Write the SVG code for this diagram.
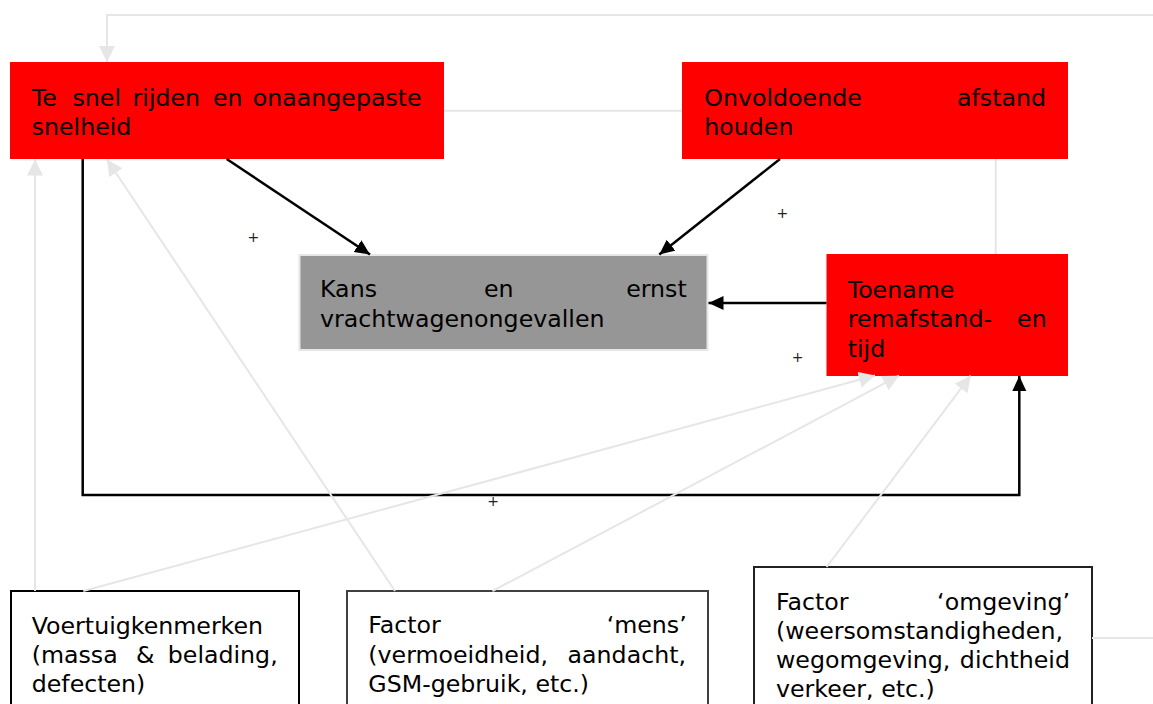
<svg xmlns="http://www.w3.org/2000/svg" width="1153" height="704" viewBox="0 0 1153 704">
<style>
.t{font-family:Verdana,"DejaVu Sans",sans-serif;font-size:23.7px;fill:#000}
.e{text-anchor:end}
.p{font-family:"DejaVu Sans",sans-serif;font-size:14px;fill:#222;text-anchor:middle}
.red{fill:#ff0000}
.blk{fill:none;stroke:#000;stroke-width:2.5}
.gry{fill:none;stroke:#e6e6e6;stroke-width:2}
</style>
<defs>
<marker id="ab" markerUnits="userSpaceOnUse" markerWidth="16" markerHeight="15" refX="15" refY="7" orient="auto"><path d="M0,0 L15,7 L0,14 z" fill="#000"/></marker>
<marker id="ag" markerUnits="userSpaceOnUse" markerWidth="17" markerHeight="17" refX="16" refY="8" orient="auto"><path d="M0,0 L16,8 L0,16 z" fill="#e6e6e6"/></marker>
</defs>
<rect width="1153" height="704" fill="#fff"/>
<g id="node-snelheid">
<rect class="red" x="10" y="62" width="434" height="97"/>
<text class="t" y="106"><tspan x="31.7">Te</tspan><tspan x="72.5">snel</tspan><tspan x="132.6">rijden</tspan><tspan x="213">en</tspan><tspan x="421.7" class="e" text-anchor="end">onaangepaste</tspan></text>
<text class="t" x="31.7" y="135">snelheid</text>
</g>
<g id="node-afstand">
<rect class="red" x="682" y="62" width="386" height="97"/>
<text class="t" x="704.3" y="106">Onvoldoende</text>
<text class="t e" x="1046" y="106">afstand</text>
<text class="t" x="704.3" y="135">houden</text>
</g>
<g id="node-kans">
<rect x="299.5" y="255" width="408" height="95" fill="#969696" stroke="#e6e6e6" stroke-width="2"/>
<text class="t" x="320" y="297.3">Kans</text>
<text class="t" x="484" y="297.3">en</text>
<text class="t e" x="686.7" y="297.3">ernst</text>
<text class="t" x="320" y="326.7">vrachtwagenongevallen</text>
</g>
<g id="node-remafstand">
<rect class="red" x="826.5" y="254" width="241.5" height="122"/>
<text class="t" x="847.7" y="298.3">Toename</text>
<text class="t" x="847.7" y="327.3">remafstand-</text>
<text class="t e" x="1046.7" y="327.3">en</text>
<text class="t" x="847.7" y="356.7">tijd</text>
</g>
<g id="node-voertuig">
<rect x="11" y="591" width="288" height="140" fill="#fff" stroke="#000" stroke-width="2"/>
<text class="t" x="31.7" y="634">Voertuigkenmerken</text>
<text class="t" x="31.7" y="663.3">(massa</text>
<text class="t" x="136" y="663.3">&amp;</text>
<text class="t e" x="277.7" y="663.3">belading,</text>
<text class="t" x="31.7" y="692.3">defecten)</text>
</g>
<g id="node-mens">
<rect x="347" y="591" width="361" height="140" fill="#fff" stroke="#404040" stroke-width="2"/>
<text class="t" x="368.3" y="633.3">Factor</text>
<text class="t e" x="686.7" y="633.3">‘mens’</text>
<text class="t" x="368.3" y="662.7">(vermoeidheid,</text>
<text class="t e" x="686" y="662.7">aandacht,</text>
<text class="t" x="368.3" y="692.3">GSM-gebruik, etc.)</text>
</g>
<g id="node-omgeving">
<rect x="754" y="567" width="338" height="160" fill="#fff" stroke="#222" stroke-width="2"/>
<text class="t" x="776" y="610">Factor</text>
<text class="t e" x="1070" y="610">‘omgeving’</text>
<text class="t" x="776" y="639">(weersomstandigheden,</text>
<text class="t" x="776" y="668">wegomgeving,</text>
<text class="t e" x="1070" y="668">dichtheid</text>
<text class="t" x="776" y="697">verkeer, etc.)</text>
</g>
<g id="connectors">
<line class="blk" x1="226.7" y1="159" x2="370" y2="254.5" marker-end="url(#ab)"/>
<line class="blk" x1="780" y1="159" x2="659.3" y2="254.5" marker-end="url(#ab)"/>
<line class="blk" x1="826.5" y1="303" x2="708.5" y2="303" marker-end="url(#ab)"/>
<polyline class="blk" points="82.7,159 82.7,495 1019.3,495 1019.3,376" marker-end="url(#ab)"/>
<polyline class="gry" points="1153,15 107,15 107,62" marker-end="url(#ag)"/>
<line class="gry" x1="444" y1="110.7" x2="682" y2="110.7"/>
<line class="gry" x1="995.7" y1="159" x2="995.7" y2="254"/>
<line class="gry" x1="35" y1="591" x2="35" y2="159.5" marker-end="url(#ag)"/>
<line class="gry" x1="395" y1="591" x2="107" y2="159.5" marker-end="url(#ag)"/>
<line class="gry" x1="83.3" y1="591" x2="875" y2="375.5" marker-end="url(#ag)"/>
<line class="gry" x1="492.5" y1="591" x2="899" y2="375.7" marker-end="url(#ag)"/>
<line class="gry" x1="826.6" y1="567" x2="970.7" y2="375.7" marker-end="url(#ag)"/>
<line class="gry" x1="1092" y1="638" x2="1153" y2="638"/>
</g>
<g id="labels">
<text class="p" x="253.3" y="241.7">+</text>
<text class="p" x="782.3" y="217.7">+</text>
<text class="p" x="797.7" y="361.7">+</text>
<text class="p" x="493" y="505.5">+</text>
</g>
</svg>
